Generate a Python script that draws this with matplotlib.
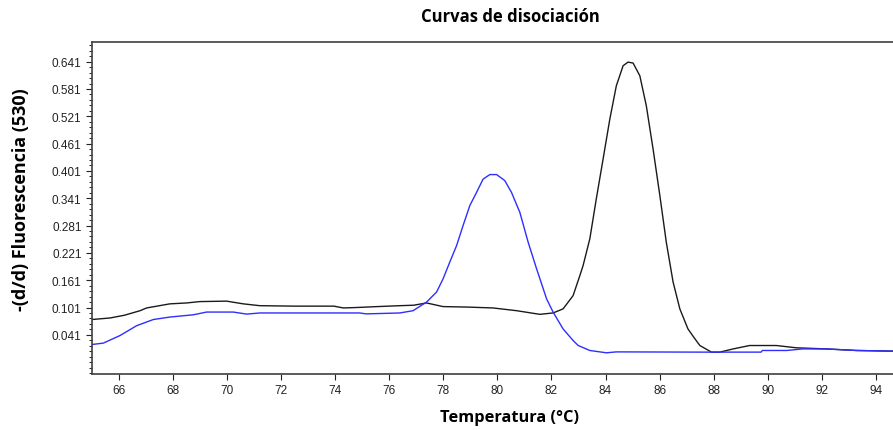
import numpy as np
import matplotlib.pyplot as plt
from matplotlib.ticker import FixedLocator

# Curva negra (muestra con pico a ~85 °C)
temp_negra = [65.0, 65.67, 66.2, 66.78, 67.02, 67.88, 68.5, 68.99, 69.98, 70.6, 71.21,
              72.5, 73.95, 74.3, 74.8, 75.55, 76.39, 76.9, 77.38, 77.99, 78.86, 79.84,
              80.71, 81.57, 82.06, 82.43, 82.8, 83.05, 83.17, 83.42, 83.66, 83.91, 84.16,
              84.4, 84.65, 84.83, 85.02, 85.27, 85.51, 85.76, 86.01, 86.25, 86.5, 86.75,
              87.05, 87.25, 87.49, 87.92, 88.23, 88.72, 89.33, 90.32, 91.06, 92.17, 93.28,
              94.61, 95.0]
fluo_negra = [0.0746, 0.078, 0.084, 0.094, 0.100, 0.109, 0.111, 0.114, 0.115, 0.109, 0.105,
              0.104, 0.104, 0.100, 0.101, 0.103, 0.105, 0.106, 0.111, 0.103, 0.102, 0.100,
              0.094, 0.086, 0.089, 0.098, 0.127, 0.171, 0.193, 0.252, 0.340, 0.427, 0.515,
              0.588, 0.632, 0.640, 0.638, 0.610, 0.544, 0.449, 0.347, 0.244, 0.157, 0.098,
              0.054, 0.037, 0.0175, 0.003, 0.003, 0.010, 0.0175, 0.0175, 0.0125, 0.010, 0.0066,
              0.0052, 0.0052]

# Curva azul (muestra con pico a ~80 °C)
temp_azul = [65.0, 65.42, 66.04, 66.65, 67.27, 67.88, 68.75, 69.24, 70.23, 70.72, 71.21,
             72.5, 74.9, 75.15, 76.39, 76.88, 77.38, 77.75, 77.99, 78.24, 78.49, 78.73,
             78.98, 79.23, 79.47, 79.72, 79.97, 80.27, 80.52, 80.83, 81.14, 81.45, 81.82,
             82.06, 82.43, 82.8, 82.99, 83.42, 84.03, 84.4, 87.5, 88.7, 89.76, 89.8,
             90.7, 91.3, 92.17, 93.28, 94.61, 95.0]
fluo_azul = [0.0197, 0.0228, 0.0395, 0.061, 0.0746, 0.080, 0.085, 0.091, 0.091, 0.0865, 0.089,
             0.089, 0.089, 0.087, 0.089, 0.094, 0.113, 0.135, 0.164, 0.201, 0.237, 0.281,
             0.325, 0.354, 0.383, 0.393, 0.393, 0.380, 0.354, 0.310, 0.244, 0.186, 0.120,
             0.091, 0.054, 0.0285, 0.0175, 0.0066, 0.0015, 0.0035, 0.003, 0.003, 0.003, 0.0066,
             0.0066, 0.010, 0.010, 0.0066, 0.0052, 0.0052]

xticks = np.arange(66, 96, 2)
yticks = [0.041, 0.101, 0.161, 0.221, 0.281, 0.341, 0.401, 0.461, 0.521, 0.581, 0.641]

plt.rcParams['font.family'] = ['Liberation Sans', 'DejaVu Sans']

fig = plt.figure(figsize=(8.93, 4.31), dpi=100)
ax = fig.add_axes([0.103, 0.130, 0.908, 0.770])

ax.plot(temp_negra, fluo_negra, color='#1a1a1a', linewidth=1.0)
ax.plot(temp_azul, fluo_azul, color='#2e2eff', linewidth=1.0)

ax.set_xlim(65, 95)
ax.set_ylim(-0.045, 0.684)

ax.set_xticks(xticks)
ax.set_yticks(yticks)
ax.set_yticklabels([f'{v:.3f}' for v in yticks])
ax.yaxis.set_minor_locator(FixedLocator(np.arange(-0.043, 0.684, 0.012)))
ax.tick_params(axis='both', labelsize=8.5, colors='#222222', direction='out')
ax.tick_params(axis='both', which='major', length=4, width=0.8)
ax.tick_params(axis='y', which='minor', length=2, width=0.6)

for lado in ['top', 'left', 'bottom']:
    ax.spines[lado].set_color('#404040')
    ax.spines[lado].set_linewidth(1.2)
ax.spines['right'].set_visible(False)

fig.text(0.571, 0.960, 'Curvas de disociación', ha='center', va='center',
         fontsize=12, fontweight='bold', family='Open Sans')
fig.text(0.571, 0.030, 'Temperatura (°C)', ha='center', va='center',
         fontsize=11.8, fontweight='bold', family='Open Sans')
fig.text(0.023, 0.536, '-(d/d) Fluorescencia (530)', ha='center', va='center',
         rotation=90, fontsize=13, fontweight='bold', family='Open Sans')

fig.savefig('out.png', dpi=100)
